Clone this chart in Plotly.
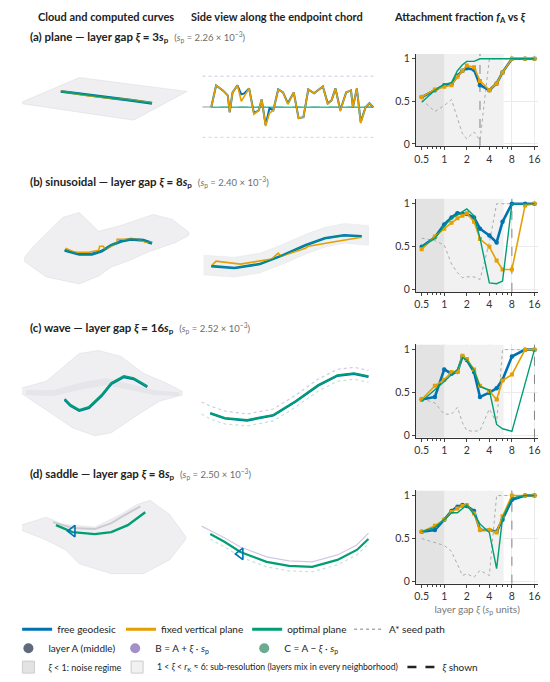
import math
import plotly.graph_objects as go

W, H = 550, 682
OFF = 8                      # page margin around the plot div
FW, FH = W - OFF, H - OFF
FONT = "Lato"

BLUE = "#0072B2"
ORANGE = "#E69F00"
GREEN = "#009E73"
SEED = "#ababab"
LAYER_A = "#5f6b7a"
LAYER_B = "#a58fc9"
LAYER_C = "#6aab91"

# ---- attachment fraction data (right column) ----
XI = [0.5, 0.75, 1, 1.25, 1.5, 1.75, 2, 2.5, 3, 4, 5, 6, 8, 12, 16]

plane_free = [0.55, 0.63, 0.69, 0.70, 0.80, 0.86, 0.89, 0.87, 0.69, 0.63, 0.71, 0.84, 1, 1, 1]
plane_fixed = [0.55, 0.64, 0.67, 0.69, 0.79, 0.86, 0.92, 0.90, 0.74, 0.63, 0.71, 0.84, 1, 1, 1]
plane_opt = [0.49, 0.63, 0.70, 0.72, 0.86, 0.93, 0.97, 0.97, 1, 1, 1, 1, 1, 1, 1]
plane_seed = [0.52, 0.38, 0.45, 0.52, 0.30, 0.12, 0.06, 0.14, 0.04, 1, 1, 1, 1, 1, 1]

sin_free = [0.50, 0.61, 0.76, 0.84, 0.89, 0.88, 0.88, 0.84, 0.71, 0.63, 0.55, 0.79, 1, 1, 1]
sin_fixed = [0.47, 0.62, 0.71, 0.78, 0.83, 0.86, 0.89, 0.79, 0.59, 0.50, 0.34, 0.235, 0.235, 0.98, 1]
sin_opt = [0.50, 0.60, 0.74, 0.83, 0.87, 0.91, 0.94, 0.86, 0.60, 0.08, 0.07, 0.10, 1, 1, 1]
sin_seed = [0.60, 0.57, 0.52, 0.30, 0.20, 0.14, 0.15, 0.15, 0.12, 0.55, 1, 1, 1, 1, 1]

wave_free = [0.42, 0.45, 0.77, 0.72, 0.74, 0.92, 0.88, 0.74, 0.45, 0.50, 0.55, 0.65, 0.92, 1, 1]
wave_fixed = [0.42, 0.58, 0.65, 0.74, 0.74, 0.93, 0.89, 0.77, 0.58, 0.52, 0.42, 0.64, 0.71, 1, 1]
wave_opt = [0.40, 0.53, 0.63, 0.71, 0.77, 0.91, 0.88, 0.76, 0.57, 0.53, 0.13, 0.08, 0.05, None, 1]
wave_seed = [0.43, 0.38, 0.25, 0.25, 0.33, 0.15, 0.06, 0.05, 0.06, 0.31, 0.15, 1, 1, 1, 1]

sad_free = [0.58, 0.60, 0.72, 0.82, 0.87, 0.89, 0.88, 0.82, 0.60, 0.60, 0.58, 0.72, 0.95, 1, 1]
sad_fixed = [0.58, 0.65, 0.72, 0.81, 0.85, 0.88, 0.89, 0.79, 0.60, 0.60, 0.57, 0.76, 1, 1, 1]
sad_opt = [0.58, 0.63, 0.72, 0.80, 0.80, 0.85, 0.89, 0.78, 0.67, 0.57, 0.15, 0.74, 0.97, 1, 1]
sad_seed = [0.50, 0.45, 0.42, 0.35, 0.20, 0.07, 0.09, 0.05, 0.13, 0.07, 1, 1, 1, 1, 1]

XI_SHOWN = [3, 8, 16, 8]
NOISE_MAX = 1
R_K = 6.2
X_LO, X_HI = 0.42, 18
Y_LO, Y_HI = -0.025, 1.06

titles = [
    ("(a) plane", "3", "2.26"),
    ("(b) sinusoidal", "8", "2.40"),
    ("(c) wave", "16", "2.52"),
    ("(d) saddle", "8", "2.50"),
]

# ---- rendered views (view units, left and middle columns) ----
# (a) plane
plane_sheet_x = [5, 67, 178, 123, 5]
plane_sheet_y = [103, 77, 91, 120, 103]
plane_curve_x = [48, 70, 95, 120, 142]
plane_curve_y = [91, 94, 97, 100, 103]
plane_curve_y_fixed = [90.5, 94.5, 97.5, 99.5, 102.5]

side_a_x = [203, 208, 215, 220, 222, 225, 230, 234, 237, 242, 247, 252, 255, 259, 263, 267, 272, 277,
            282, 288, 293, 298, 303, 309, 318, 323, 327, 331, 336, 342, 347, 349, 353, 357, 362, 366, 370]
side_a_free = [107, 85, 90, 95, 112, 92, 85, 94, 93, 88, 113, 110, 99, 125, 108, 110, 89, 92,
               103, 92, 118, 117, 89, 93, 86, 103, 100, 88, 110, 92, 90, 107, 88, 122, 107, 103, 107]
side_a_fixed = [107, 85, 90, 95, 112, 92, 85, 101, 96, 88, 114, 110, 99, 126, 113, 110, 89, 92,
                104, 92, 118, 117, 89, 93, 86, 104, 100, 88, 111, 92, 90, 107, 88, 123, 107, 103, 107]
side_a_opt_x = [203, 370]
side_a_opt_y = [107, 107]
side_a_layer_x = [194, 370]
side_a_B = [75.7, 75.7]
side_a_A = [106.7, 106.7]
side_a_C = [137.3, 137.3]

# (b) sinusoidal
sin_sheet_x = [10, 20, 50, 67, 87, 110, 143, 163, 180, 180, 167, 140, 117, 100, 87, 67, 33, 10]
sin_sheet_y = [259, 247, 218, 213, 232, 226, 215, 220, 233, 236, 243, 252, 262, 268, 277, 285, 278, 262]
sin_curve_x = [52, 67, 80, 90, 100, 110, 120, 133, 142]
sin_curve_y = [251, 255, 255, 252, 246, 242, 240, 241, 244]
sin_fixed_x = [53, 62, 77, 87, 88, 92, 93, 100, 106, 106, 110, 127, 133, 135, 142]
sin_fixed_y = [249, 253, 253, 251, 247, 247, 250, 247, 243, 240, 240, 240, 242, 243, 243]

sin_band_x = [195, 227, 253, 277, 300, 320, 340, 365, 365, 340, 320, 300, 277, 253, 227, 195]
sin_band_y = [256, 258, 254, 245, 235, 228, 224, 226, 246, 244, 248, 255, 265, 274, 278, 276]
sin_side_x = [203, 227, 253, 277, 300, 320, 340, 358]
sin_side_y = [267, 269, 265, 256, 246, 239, 236, 237]
sin_side_fixed_x = [204, 208, 233, 265, 272, 275, 300, 303, 333, 358]
sin_side_fixed_y = [266, 262, 265, 260, 254, 257, 249, 247, 242, 238]

# (c) wave
wave_sheet_x = [7, 33, 67, 87, 110, 133, 157, 173, 173, 150, 127, 100, 83, 60, 33, 7]
wave_sheet_y = [390, 383, 355, 352, 358, 375, 385, 393, 397, 403, 417, 435, 438, 430, 412, 395]
wave_mid_x = [12, 40, 70, 95, 120, 145, 170, 170, 145, 120, 95, 70, 40, 12]
wave_mid_y = [392, 392, 384, 380, 386, 392, 394, 398, 397, 392, 387, 391, 398, 397]
wave_curve_x = [52, 58, 67, 77, 90, 100, 113, 123, 137]
wave_curve_y = [401, 407, 412, 409, 397, 385, 378, 380, 388]
wave_curve_y_free = [401.8, 407.8, 412.8, 409.8, 397.8, 385.8, 378.8, 380.8, 388.8]
wave_side_x = [193, 202, 217, 240, 267, 290, 313, 333, 350, 365]
wave_side_y = [410, 415, 420, 422, 417, 403, 387, 377, 375, 378]
wave_side_y_free = [410.6, 415.6, 420.6, 422.6, 417.6, 403.6, 387.6, 377.6, 375.6, 378.6]
wave_side_B = [404, 408, 413, 416, 411, 397, 381, 371, 369, 372]
wave_side_C = [416, 421, 426, 428, 423, 409, 393, 383, 381, 384]

# (d) saddle
sad_sheet_x = [7, 33, 50, 83, 110, 127, 140, 160, 177, 177, 160, 133, 100, 67, 53, 33, 7]
sad_sheet_y = [528, 520, 527, 530, 517, 507, 503, 517, 540, 542, 563, 577, 577, 567, 553, 543, 533]
sad_ridge_x = [40, 60, 83, 100, 112, 130]
sad_ridge_y = [525, 531, 532, 526, 519, 509]
sad_curve_x = [43, 60, 83, 100, 117, 135]
sad_curve_y = [528, 535, 537, 535, 528, 515]
sad_side_x = [202, 217, 233, 260, 283, 307, 333, 353, 365]
sad_side_y = [537, 545, 555, 565, 569, 570, 563, 553, 542]
sad_side_Bx = [193, 217, 233, 260, 283, 307, 333, 353, 365]
sad_side_B = [529, 541, 550, 560, 564, 565, 558, 548, 536]
sad_side_C = [542, 550, 560, 570, 574, 575, 568, 558, 547]
sad_mark_x = [60, 233]
sad_mark_y = [534, 557]

fig = go.Figure()


def view(x, y, **kw):
    fig.add_trace(go.Scatter(x=x, y=y, xaxis="x", yaxis="y", showlegend=False,
                             hoverinfo="skip", **kw))


SHEET = dict(mode="lines", fill="toself", fillcolor="rgba(130,135,155,0.13)",
             line=dict(color="rgba(160,160,180,0.22)", width=0.8))

# left column: clouds
view(plane_sheet_x, plane_sheet_y, **SHEET)
view(sin_sheet_x, sin_sheet_y, **SHEET)
view(wave_sheet_x, wave_sheet_y, **SHEET)
view(wave_mid_x, wave_mid_y, mode="lines", fill="toself", fillcolor="rgba(110,115,135,0.08)",
     line=dict(width=0))
view(sad_sheet_x, sad_sheet_y, **SHEET)
view(sad_ridge_x, sad_ridge_y, mode="lines", line=dict(color="rgba(90,95,115,0.25)", width=2))

# left column: curves
view(plane_curve_x, plane_curve_y, mode="lines", line=dict(color=BLUE, width=3))
view(plane_curve_x, plane_curve_y_fixed, mode="lines", line=dict(color=ORANGE, width=1.6))
view(plane_curve_x, plane_curve_y, mode="lines", line=dict(color=GREEN, width=1.6))
view(sin_curve_x, sin_curve_y, mode="lines", line=dict(color=BLUE, width=3))
view(sin_fixed_x, sin_fixed_y, mode="lines", line=dict(color=ORANGE, width=1.6))
view(sin_curve_x, sin_curve_y, mode="lines", line=dict(color="#00908a", width=1.4))
view(wave_curve_x, wave_curve_y_free, mode="lines", line=dict(color=BLUE, width=2.4))
view(wave_curve_x, wave_curve_y, mode="lines", line=dict(color=GREEN, width=2.2))
view(sad_curve_x, sad_curve_y, mode="lines", line=dict(color=GREEN, width=2.4))

# middle column: side views
view(side_a_layer_x, side_a_B, mode="lines", line=dict(color="#cfc9e0", width=1, dash="dot"))
view(side_a_layer_x, side_a_C, mode="lines", line=dict(color="#c2e0d4", width=1, dash="dot"))
view(side_a_layer_x, side_a_A, mode="lines", line=dict(color="#9a9a9a", width=1, dash="dash"))
view(side_a_opt_x, side_a_opt_y, mode="lines", line=dict(color="#2ec4a0", width=1.4))
view(side_a_x, side_a_free, mode="lines", line=dict(color=BLUE, width=2))
view(side_a_x, side_a_fixed, mode="lines", line=dict(color=ORANGE, width=1.6))

view(sin_band_x, sin_band_y, mode="lines", fill="toself", fillcolor="rgba(125,130,150,0.12)",
     line=dict(color="rgba(150,150,170,0.15)", width=0.6))
view(sin_side_x, sin_side_y, mode="lines", line=dict(color=BLUE, width=2.6))
view(sin_side_fixed_x, sin_side_fixed_y, mode="lines", line=dict(color=ORANGE, width=1.6))
view(sin_side_x, sin_side_y, mode="lines", line=dict(color="#00908a", width=1.2))

view(wave_side_x, wave_side_B, mode="lines", line=dict(color="#d3c7e6", width=1.2, dash="dot"))
view(wave_side_x, wave_side_C, mode="lines", line=dict(color="#c4e2d6", width=1.2, dash="dot"))
view(wave_side_x[1:], wave_side_y_free[1:], mode="lines", line=dict(color=BLUE, width=2.2))
view(wave_side_x[1:], wave_side_y[1:], mode="lines", line=dict(color=GREEN, width=2))

view(sad_side_Bx, sad_side_B, mode="lines", line=dict(color="#d3c7e6", width=1.2))
view(sad_side_x, sad_side_C, mode="lines", line=dict(color="#c4e2d6", width=1.2, dash="dot"))
view(sad_side_x, sad_side_y, mode="lines", line=dict(color=GREEN, width=2.2))
view(sad_mark_x, sad_mark_y, mode="markers",
     marker=dict(symbol="triangle-left-open", size=10, color=BLUE, line=dict(width=1.6)))

# right column: attachment fraction panels
panels = [
    (plane_free, plane_fixed, plane_opt, plane_seed),
    (sin_free, sin_fixed, sin_opt, sin_seed),
    (wave_free, wave_fixed, wave_opt, wave_seed),
    (sad_free, sad_fixed, sad_opt, sad_seed),
]
panel_px = [(53, 146), (199, 293), (346, 440), (493, 587)]

for i, (free, fixed, opt, seed) in enumerate(panels):
    xa, ya = f"x{i + 2}", f"y{i + 2}"
    common = dict(xaxis=xa, yaxis=ya, showlegend=False, hoverinfo="skip")
    fig.add_trace(go.Scatter(x=[X_LO, NOISE_MAX, NOISE_MAX, X_LO], y=[Y_LO, Y_LO, Y_HI, Y_HI],
                             mode="lines", fill="toself", fillcolor="#e3e3e3",
                             line=dict(width=0), **common))
    fig.add_trace(go.Scatter(x=[NOISE_MAX, R_K, R_K, NOISE_MAX], y=[Y_LO, Y_LO, Y_HI, Y_HI],
                             mode="lines", fill="toself", fillcolor="#f1f1f1",
                             line=dict(width=0), **common))
    fig.add_trace(go.Scatter(x=[XI_SHOWN[i], XI_SHOWN[i]], y=[Y_LO, Y_HI], mode="lines",
                             line=dict(color="#777777", width=0.9, dash="dash"), **common))
    fig.add_trace(go.Scatter(x=XI, y=seed, mode="lines",
                             line=dict(color=SEED, width=1, dash="dot"), **common))
    fig.add_trace(go.Scatter(x=XI, y=free, mode="lines+markers",
                             line=dict(color=BLUE, width=2.6),
                             marker=dict(size=4.5, color=BLUE), **common))
    fig.add_trace(go.Scatter(x=XI, y=fixed, mode="lines+markers",
                             line=dict(color=ORANGE, width=1.6),
                             marker=dict(size=4, symbol="square", color=ORANGE), **common))
    fig.add_trace(go.Scatter(x=XI, y=opt, mode="lines", connectgaps=True,
                             line=dict(color=GREEN, width=1.4), **common))

# legend-only entries, one small legend each so they sit where the reference puts them
legend_items = [
    ("free geodesic", 3, 633, 10, dict(mode="lines", line=dict(color=BLUE, width=3))),
    ("fixed vertical plane", 110, 633, 10, dict(mode="lines", line=dict(color=ORANGE, width=3))),
    ("optimal plane", 240, 633, 10, dict(mode="lines", line=dict(color=GREEN, width=3))),
    ("A* seed path", 345, 633, 10, dict(mode="lines", line=dict(color=SEED, width=1.5, dash="dot"))),
    ("layer A (middle)", -6, 652, 10, dict(mode="markers", marker=dict(size=10, color=LAYER_A))),
    ("B = A + <i>ξ</i> · <i>s</i><sub>p</sub>", 104, 652, 10,
     dict(mode="markers", marker=dict(size=10, color=LAYER_B))),
    ("C = A − <i>ξ</i> · <i>s</i><sub>p</sub>", 237, 652, 10,
     dict(mode="markers", marker=dict(size=10, color=LAYER_C))),
    ("<i>ξ</i> &lt; 1: noise regime", -6, 671, 9,
     dict(mode="markers", marker=dict(size=12, symbol="square", color="#e3e3e3",
                                      line=dict(color="#cccccc", width=1)))),
    ("1 &lt; <i>ξ</i> &lt; <i>r</i><sub>K</sub> ≈ 6: sub-resolution (layers mix in every neighborhood)",
     106, 671, 8.7,
     dict(mode="markers", marker=dict(size=12, symbol="square", color="#f1f1f1",
                                      line=dict(color="#cccccc", width=1)))),
    ("<i>ξ</i> shown", 400, 671, 10,
     dict(mode="lines", line=dict(color="#222222", width=2.5, dash="dash"))),
]

layout = dict(
    width=FW, height=FH, autosize=False,
    margin=dict(l=0, r=0, t=0, b=0),
    paper_bgcolor="white", plot_bgcolor="rgba(0,0,0,0)",
    font=dict(family=FONT, size=11, color="#222222"),
    xaxis=dict(domain=[0, 1], range=[OFF, W], visible=False, fixedrange=True),
    yaxis=dict(domain=[0, 1], range=[H, OFF], visible=False, fixedrange=True),
)

for k, (name, lx, ly, size, style) in enumerate(legend_items):
    key = "legend" if k == 0 else f"legend{k + 1}"
    fig.add_trace(go.Scatter(x=[None], y=[None], name=name, legend=key,
                             xaxis="x", yaxis="y", **style))
    layout[key] = dict(orientation="h", x=(lx - OFF) / FW, y=1 - (ly - OFF) / FH,
                       xanchor="left", yanchor="middle", bgcolor="rgba(0,0,0,0)",
                       font=dict(size=size, family=FONT, color="#222222"),
                       itemsizing="trace")

for i, (top, bot) in enumerate(panel_px):
    n = i + 2
    layout[f"xaxis{n}"] = dict(
        domain=[(414 - OFF) / FW, (540 - OFF) / FW], anchor=f"y{n}", type="log",
        range=[math.log10(X_LO), math.log10(X_HI)],
        tickvals=[0.5, 1, 2, 4, 8, 16], ticktext=["0.5", "1", "2", "4", "8", "16"],
        ticks="outside", ticklen=3, showline=True, linecolor="#333333", linewidth=1,
        showgrid=True, gridcolor="#ebebeb", zeroline=False,
        minor=dict(tickvals=[0.6, 0.7, 0.8, 0.9, 3, 5, 6, 7], ticks="outside", ticklen=2,
                   showgrid=False),
        tickfont=dict(size=10.5, color="#333333"),
    )
    layout[f"yaxis{n}"] = dict(
        domain=[1 - (bot - OFF) / FH, 1 - (top - OFF) / FH], anchor=f"x{n}",
        range=[Y_LO, Y_HI], tickvals=[0, 0.5, 1], ticktext=["0", "0.5", "1"],
        ticks="outside", ticklen=3, showline=True, linecolor="#333333", linewidth=1,
        showgrid=True, gridcolor="#ebebeb", zeroline=False,
        tickfont=dict(size=10.5, color="#333333"),
    )
layout["xaxis5"]["title"] = dict(text="layer gap <i>ξ</i> (<i>s</i><sub>p</sub> units)",
                                 font=dict(size=10, color="#777777"), standoff=4)

annotations = []
headers = [
    (95, "<b>Cloud and computed curves</b>"),
    (271, "<b>Side view along the endpoint chord</b>"),
    (459, "<b>Attachment fraction <i>f</i><sub>A</sub> vs <i>ξ</i></b>"),
]
for cx, text in headers:
    annotations.append(dict(x=(cx - OFF) / FW, y=1, xref="paper", yref="paper",
                            text=text, showarrow=False, xanchor="center", yanchor="top",
                            borderpad=0, font=dict(size=11, color="#222222")))

title_y = [37, 183, 330, 477]
for (name, gap, sp), ty in zip(titles, title_y):
    text = (f"<b>{name} — layer gap <i>ξ</i> = {gap}<i>s</i><sub>p</sub></b>  "
            f"<span style='color:#6e6e6e;font-size:9.5px'>(<i>s</i><sub>p</sub> = {sp} × 10<sup>−3</sup>)</span>")
    annotations.append(dict(x=(14 - OFF) / FW, y=1 - (ty - OFF) / FH, xref="paper", yref="paper",
                            text=text, showarrow=False, xanchor="left", yanchor="middle",
                            font=dict(size=11.5, color="#222222")))
layout["annotations"] = annotations

fig.update_layout(**layout)
fig.write_html("out.html")
